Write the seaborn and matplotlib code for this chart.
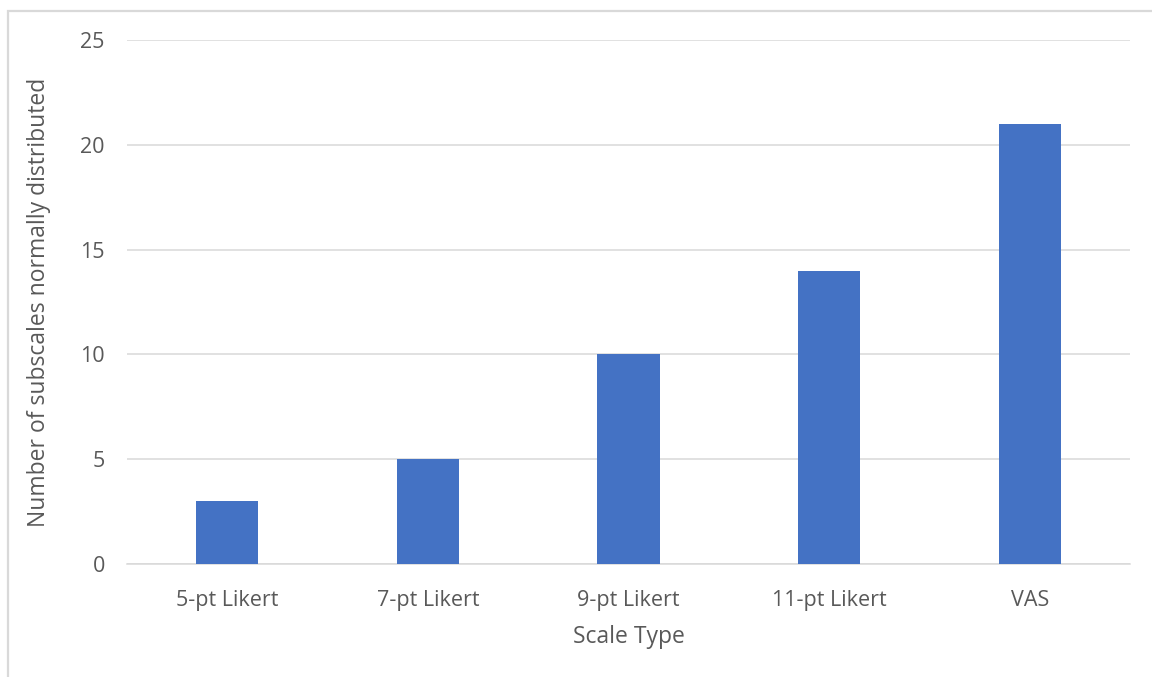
import matplotlib
matplotlib.use("Agg")
import matplotlib.pyplot as plt
import seaborn as sns
import pandas as pd
from matplotlib.patches import Rectangle

# Number of subscales normally distributed, per scale type
scale_types = ["5-pt Likert", "7-pt Likert", "9-pt Likert", "11-pt Likert", "VAS"]
normal_counts = [3, 5, 10, 14, 21]
y_ticks = [0, 5, 10, 15, 20, 25]

df = pd.DataFrame({"Scale Type": scale_types, "Count": normal_counts})

sns.set_theme(style="white")
plt.rcParams["font.family"] = ["Open Sans", "DejaVu Sans"]

text_color = "#595959"
grid_color = "#d9d9d9"
bar_color = "#4472C4"

W, H = 1152, 677
fig = plt.figure(figsize=(W / 100, H / 100), dpi=100)
fig.patch.set_facecolor("white")

# chart border (extends past right and bottom edges)
fig.patches.append(Rectangle((7.5 / W, -0.05), 1.1, 1 - 10.5 / H + 0.05,
                             transform=fig.transFigure, fill=False,
                             edgecolor=grid_color, linewidth=1.6, zorder=0))

ax = fig.add_axes([127 / W, 1 - 564 / H, (1130 - 127) / W, (564 - 40) / H])
sns.barplot(data=df, x="Scale Type", y="Count", color=bar_color,
            width=0.31, saturation=1, linewidth=0, ax=ax, zorder=3)

ax.set_ylim(0, 25)
ax.set_xlim(-0.5, len(scale_types) - 0.5)
ax.set_yticks(y_ticks)
ax.yaxis.grid(True, color=grid_color, linewidth=1.1, zorder=0)
ax.set_axisbelow(True)
for s in ["top", "right", "left"]:
    ax.spines[s].set_visible(False)
ax.spines["bottom"].set_color(grid_color)
ax.spines["bottom"].set_linewidth(1.1)

ax.tick_params(axis="x", length=0, pad=19, labelsize=15.5, labelcolor=text_color)
ax.tick_params(axis="y", length=0, pad=16, labelsize=15.5, labelcolor=text_color)

ax.set_xlabel("Scale Type", fontsize=16.5, color=text_color, labelpad=10)
ax.set_ylabel("Number of subscales normally distributed", fontsize=16.5,
              color=text_color, labelpad=21)

fig.savefig("out.png", dpi=100, facecolor="white")
